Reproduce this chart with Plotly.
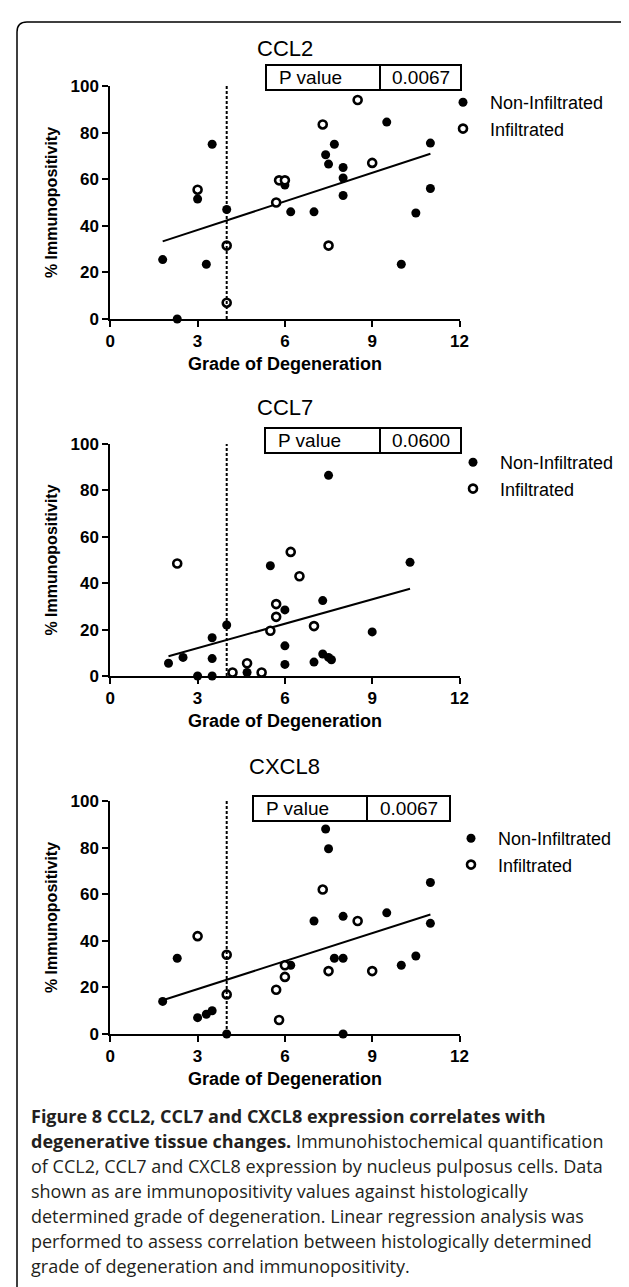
import plotly.graph_objects as go

W, H = 629, 1287

# ---------------- data ----------------
grade_cutoff = 4
x_ticks = [0, 3, 6, 9, 12]
y_ticks = [0, 20, 40, 60, 80, 100]
legend_names = ["Non-Infiltrated", "Infiltrated"]

ccl2_non_x = [1.8, 2.3, 3.0, 3.3, 3.5, 4.0, 6.0, 6.2, 7.0, 7.4, 7.5, 7.7, 8.0, 8.0, 8.0, 9.5, 10.0, 10.5, 11.0, 11.0]
ccl2_non_y = [25.5, 0, 51.5, 23.5, 75, 47, 57.5, 46, 46, 70.5, 66.5, 75, 65, 60.5, 53, 84.5, 23.5, 45.5, 75.5, 56]
ccl2_inf_x = [3.0, 4.0, 4.0, 5.7, 5.8, 6.0, 7.3, 7.5, 8.5, 9.0]
ccl2_inf_y = [55.5, 31.5, 7, 50, 59.5, 59.5, 83.5, 31.5, 94, 67]
ccl2_fit_x = [1.8, 11.0]
ccl2_fit_y = [33.3, 70.9]
ccl2_p = "0.0067"

ccl7_non_x = [2.0, 2.5, 3.0, 3.5, 3.5, 3.5, 4.0, 4.7, 5.5, 6.0, 6.0, 6.0, 7.0, 7.3, 7.3, 7.5, 7.5, 7.6, 9.0, 10.3]
ccl7_non_y = [5.5, 8, 0, 0, 7.5, 16.5, 22, 1.5, 47.5, 28.5, 13, 5, 6, 32.5, 9.5, 86.5, 8, 7, 19, 49]
ccl7_inf_x = [2.3, 4.2, 4.7, 5.2, 5.5, 5.7, 5.7, 6.2, 6.5, 7.0]
ccl7_inf_y = [48.5, 1.5, 5.5, 1.5, 19.5, 31, 25.5, 53.5, 43, 21.5]
ccl7_fit_x = [2.0, 10.3]
ccl7_fit_y = [8.5, 37.6]
ccl7_p = "0.0600"

cxcl8_non_x = [1.8, 2.3, 3.0, 3.3, 3.5, 4.0, 6.2, 7.0, 7.4, 7.5, 7.7, 8.0, 8.0, 8.0, 9.5, 10.0, 10.5, 11.0, 11.0]
cxcl8_non_y = [14, 32.5, 7, 8.5, 10, 0, 29.5, 48.5, 88, 79.5, 32.5, 32.5, 50.5, 0, 52, 29.5, 33.5, 65, 47.5]
cxcl8_inf_x = [3.0, 4.0, 4.0, 5.7, 5.8, 6.0, 6.0, 7.3, 7.5, 8.5, 9.0]
cxcl8_inf_y = [42, 34, 17, 19, 6, 29.5, 24.5, 62, 27, 48.5, 27]
cxcl8_fit_x = [1.8, 11.0]
cxcl8_fit_y = [14.5, 51.3]
cxcl8_p = "0.0067"

titles = ["CCL2", "CCL7", "CXCL8"]

caption_lines = [
    "<b>Figure 8 CCL2, CCL7 and CXCL8 expression correlates with</b>",
    "<b>degenerative tissue changes.</b> Immunohistochemical quantification",
    "of CCL2, CCL7 and CXCL8 expression by nucleus pulposus cells. Data",
    "shown as are immunopositivity values against histologically",
    "determined grade of degeneration. Linear regression analysis was",
    "performed to assess correlation between histologically determined",
    "grade of degeneration and immunopositivity.",
]

# ---------------- layout helpers (pixels -> paper) ----------------
def fx(px):
    return px / W

def fy(py):
    return 1 - py / H

AX_FONT = "Liberation Sans, Arial, sans-serif"
X_LEFT, X_RIGHT = 102.3, 451.5
panels = [
    dict(top=78, bottom=311, box=(258, 372, 453), boxtop=57, leg=(455, 89), tgap=38),
    dict(top=436, bottom=668, box=(257, 372, 453), boxtop=420, leg=(465, 449), tgap=37),
    dict(top=793, bottom=1026, box=(245, 359, 442), boxtop=788, leg=(463, 825), tgap=35),
]
series = [
    (ccl2_non_x, ccl2_non_y, ccl2_inf_x, ccl2_inf_y, ccl2_fit_x, ccl2_fit_y, ccl2_p),
    (ccl7_non_x, ccl7_non_y, ccl7_inf_x, ccl7_inf_y, ccl7_fit_x, ccl7_fit_y, ccl7_p),
    (cxcl8_non_x, cxcl8_non_y, cxcl8_inf_x, cxcl8_inf_y, cxcl8_fit_x, cxcl8_fit_y, cxcl8_p),
]

fig = go.Figure()
shapes = []
annotations = []
layout = {}

for i, (pan, ser) in enumerate(zip(panels, series)):
    n = "" if i == 0 else str(i + 1)
    xa, ya = "x" + n, "y" + n
    leg = "legend" + n
    nx, ny, ix, iy, fxs, fys, pval = ser

    fig.add_trace(go.Scatter(
        x=fxs, y=fys, xaxis=xa, yaxis=ya, mode="lines",
        line=dict(color="black", width=2), showlegend=False, hoverinfo="skip"))
    fig.add_trace(go.Scatter(
        x=nx, y=ny, xaxis=xa, yaxis=ya, mode="markers", name=legend_names[0],
        legend=leg, legendgroup="a" + n, cliponaxis=False,
        marker=dict(color="black", size=9, line=dict(width=0))))
    fig.add_trace(go.Scatter(
        x=ix, y=iy, xaxis=xa, yaxis=ya, mode="markers", name=legend_names[1],
        legend=leg, legendgroup="b" + n, cliponaxis=False,
        marker=dict(color="white", size=8, line=dict(color="black", width=2.6))))

    tick_font = dict(family=AX_FONT, size=17, color="black", weight="bold")
    layout["xaxis" + n] = dict(
        domain=[fx(X_LEFT), fx(X_RIGHT)], anchor=ya, range=[0, 12],
        tickvals=x_ticks, ticks="outside", ticklen=6, tickwidth=2, tickcolor="black",
        showline=True, linecolor="black", linewidth=2, showgrid=False, zeroline=False,
        tickfont=tick_font, automargin=False,
        title=dict(text="Grade of Degeneration", standoff=7,
                   font=dict(family=AX_FONT, size=18, color="black", weight="bold")))
    layout["yaxis" + n] = dict(
        domain=[fy(pan["bottom"]), fy(pan["top"])], anchor=xa, range=[0, 100],
        tickvals=y_ticks, ticks="outside", ticklen=6, tickwidth=2, tickcolor="black",
        showline=True, linecolor="black", linewidth=2, showgrid=False, zeroline=False,
        tickfont=tick_font, automargin=False,
        title=dict(text="% Immunopositivity", standoff=9,
                   font=dict(family=AX_FONT, size=16, color="black", weight="bold")))
    lx, ly = pan["leg"]
    layout[leg] = dict(
        x=fx(lx - 27), y=fy(ly - 13), xanchor="left", yanchor="top",
        bgcolor="rgba(0,0,0,0)", itemwidth=44, tracegroupgap=0,
        font=dict(family=AX_FONT, size=18, color="black"))

    # cutoff line at grade 4
    shapes.append(dict(type="line", xref=xa, yref=ya, x0=grade_cutoff, x1=grade_cutoff,
                       y0=0, y1=100, line=dict(color="black", width=2, dash="3px,2px")))
    # P value box
    b0, b1, b2 = pan["box"]
    btop = pan["boxtop"]
    bbot = btop + 25
    shapes.append(dict(type="rect", xref="paper", yref="paper", x0=fx(b0), x1=fx(b2),
                       y0=fy(bbot), y1=fy(btop), line=dict(color="black", width=2)))
    shapes.append(dict(type="line", xref="paper", yref="paper", x0=fx(b1), x1=fx(b1),
                       y0=fy(bbot), y1=fy(btop), line=dict(color="black", width=2)))
    annotations.append(dict(text="P value", xref="paper", yref="paper", x=fx(b0 + 11),
                            y=fy((btop + bbot) / 2), xanchor="left", yanchor="middle",
                            showarrow=False, font=dict(family=AX_FONT, size=19, color="black")))
    annotations.append(dict(text=pval, xref="paper", yref="paper", x=fx((b1 + b2) / 2),
                            y=fy((btop + bbot) / 2), xanchor="center", yanchor="middle",
                            showarrow=False, font=dict(family=AX_FONT, size=19, color="black")))
    # panel title
    annotations.append(dict(text=titles[i], xref="paper", yref="paper",
                            x=fx((X_LEFT + X_RIGHT) / 2), y=fy(pan["top"] - pan["tgap"]),
                            xanchor="center", yanchor="middle", showarrow=False,
                            font=dict(family=AX_FONT, size=22, color="black")))

# caption
for k, line in enumerate(caption_lines):
    annotations.append(dict(text=line, xref="paper", yref="paper", x=fx(21),
                            y=fy(1108 + 25 * k), xanchor="left", yanchor="middle",
                            showarrow=False,
                            font=dict(family="Open Sans, Noto Sans, sans-serif", size=18,
                                      color="#231f20")))

# outer rounded frame
L, R, T, B, r = 9, 621, 14, 1300, 10
path = (f"M {fx(L)},{fy(B)} L {fx(L)},{fy(T + r)} Q {fx(L)},{fy(T)} {fx(L + r)},{fy(T)} "
        f"L {fx(R - r)},{fy(T)} Q {fx(R)},{fy(T)} {fx(R)},{fy(T + r)} L {fx(R)},{fy(B)}")
shapes.append(dict(type="path", xref="paper", yref="paper", path=path,
                   line=dict(color="black", width=1.5)))

fig.update_layout(
    width=W, height=H, margin=dict(l=0, r=0, t=0, b=0),
    paper_bgcolor="white", plot_bgcolor="white",
    shapes=shapes, annotations=annotations, showlegend=True,
    **layout,
)

fig.write_html("out.html")
